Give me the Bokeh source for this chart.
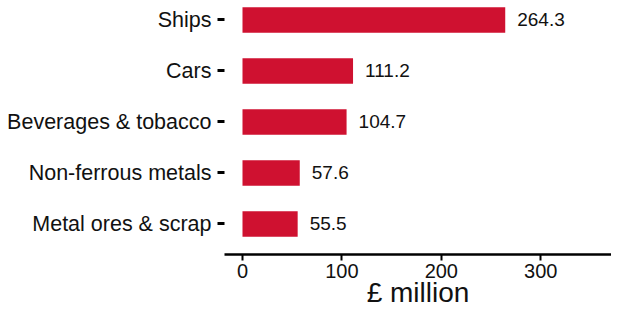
from bokeh.plotting import figure
from bokeh.models import Range1d, FixedTicker, ColumnDataSource
from bokeh.core.properties import value
from bokeh.embed import file_html
from bokeh.resources import INLINE

categories = ["Ships", "Cars", "Beverages & tobacco", "Non-ferrous metals", "Metal ores & scrap"]
values = [264.3, 111.2, 104.7, 57.6, 55.5]
x_ticks = [0, 100, 200, 300]
x_title = "£ million"

n = len(categories)
ypos = [n - 1 - i for i in range(n)]
labels = [f"{v:.1f}" for v in values]

src = ColumnDataSource(dict(y=ypos, v=values, lab=labels, cat=categories))

FONT = "Liberation Sans"
RED = "#cf1130"
TXT = "#111111"

p = figure(width=611, height=311, output_backend="svg", toolbar_location=None,
           x_range=Range1d(-18.1, 371.2), y_range=Range1d(-0.598, 4.38),
           min_border_left=224, min_border_right=0, min_border_top=0, min_border_bottom=57)
p.outline_line_color = None
p.xgrid.visible = False
p.ygrid.visible = False

p.hbar(y="y", right="v", left=0, height=0.5, source=src, fill_color=RED, line_color=None)
p.text(x="v", y="y", text="lab", source=src, x_offset=12, text_align="left", text_baseline="middle",
       text_font=value(FONT), text_font_size="19px", text_color=TXT)

# y axis
p.yaxis.ticker = FixedTicker(ticks=ypos)
p.yaxis.major_label_overrides = {y: c for y, c in zip(ypos, categories)}
p.yaxis.axis_line_color = None
p.yaxis.major_tick_out = 7
p.yaxis.major_tick_in = 0
p.yaxis.major_tick_line_width = 3
p.yaxis.minor_tick_line_color = None
p.yaxis.major_label_standoff = 6
p.yaxis.major_label_text_font = FONT
p.yaxis.major_label_text_font_size = "21.5px"
p.yaxis.major_label_text_color = TXT

# x axis
p.xaxis.ticker = FixedTicker(ticks=x_ticks)
p.xaxis.axis_line_width = 2.5
p.xaxis.axis_line_color = "black"
p.xaxis.major_tick_out = 6
p.xaxis.major_tick_in = 0
p.xaxis.major_tick_line_width = 2
p.xaxis.minor_tick_line_color = None
p.xaxis.major_label_standoff = 3
p.xaxis.major_label_text_font = FONT
p.xaxis.major_label_text_font_size = "20px"
p.xaxis.major_label_text_color = TXT
p.xaxis.axis_label = x_title
p.xaxis.axis_label_text_font = FONT
p.xaxis.axis_label_text_font_size = "28px"
p.xaxis.axis_label_text_font_style = "normal"
p.xaxis.axis_label_text_color = TXT
p.xaxis.axis_label_standoff = -4

open("out.html", "w").write(file_html(p, INLINE))
